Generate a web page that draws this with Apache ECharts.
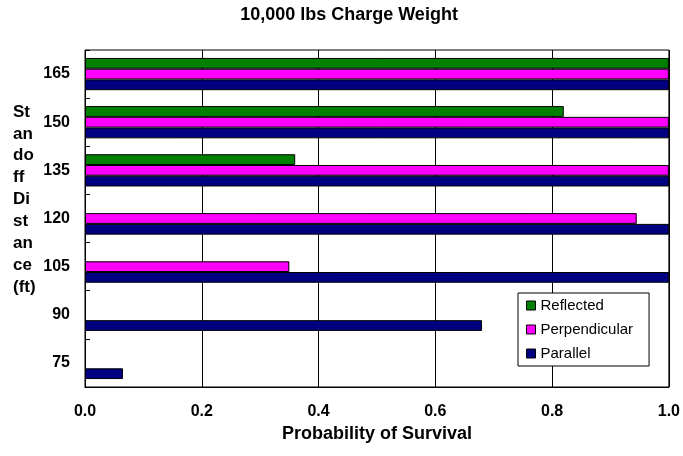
<!DOCTYPE html>
<html>
<head>
<meta charset="utf-8">
<script src="https://cdn.jsdelivr.net/npm/echarts@6/dist/echarts.min.js"></script>
<style>
  html, body { margin: 0; padding: 0; background: #fff; }
  #chart-container { width: 683px; height: 456px; }
</style>
</head>
<body>
<div id="chart-container"></div>
<script>
// standoff distances (ft), bottom to top
var distances = ['75', '90', '105', '120', '135', '150', '165'];
// probability of survival per orientation
var reflected = [null, null, null, null, 0.36, 0.82, 1.0];
var perpendicular = [null, null, 0.35, 0.945, 1.0, 1.0, 1.0];
var parallel = [0.065, 0.68, 1.0, 1.0, 1.0, 1.0, 1.0];

var font = 'Liberation Sans, Arial, sans-serif';

var dom = document.getElementById('chart-container');
var myChart = echarts.init(dom, null, { renderer: 'canvas' });

var option = {
  animation: false,
  backgroundColor: '#fff',
  grid: {
    left: 85, right: 13, top: 50, bottom: 69,
    show: true, borderColor: '#000', borderWidth: 1
  },
  legend: {
    orient: 'vertical',
    left: 518, top: 293,
    data: ['Reflected', 'Perpendicular', 'Parallel'],
    icon: 'rect',
    itemWidth: 9, itemHeight: 9, itemGap: 9,
    padding: [5, 16, 5, 8],
    backgroundColor: '#fff',
    borderColor: '#000', borderWidth: 1,
    textStyle: { fontFamily: font, fontSize: 15, lineHeight: 15, color: '#000' },
    itemStyle: { borderColor: '#000', borderWidth: 1 }
  },
  xAxis: {
    type: 'value',
    min: 0, max: 1, interval: 0.2,
    axisLine: { show: true, lineStyle: { color: '#000' } },
    axisTick: { show: false },
    splitLine: { show: true, lineStyle: { color: '#000', width: 1 } },
    axisLabel: {
      margin: 17,
      fontFamily: font, fontSize: 16, fontWeight: 'bold', color: '#000',
      formatter: function (v) { return v.toFixed(1); }
    }
  },
  yAxis: {
    type: 'category',
    data: distances,
    axisLine: { show: true, lineStyle: { color: '#000' } },
    axisTick: { show: true, inside: true, length: 5, lineStyle: { color: '#000' } },
    axisLabel: {
      margin: 15,
      fontFamily: font, fontSize: 16, fontWeight: 'bold', color: '#000'
    }
  },
  graphic: [
    {
      type: 'text', x: 349, y: 15,
      style: {
        text: '10,000 lbs Charge Weight', textAlign: 'center', textVerticalAlign: 'middle',
        font: 'bold 18px ' + font, fill: '#000'
      }
    },
    {
      type: 'text', x: 377, y: 434,
      style: {
        text: 'Probability of Survival', textAlign: 'center', textVerticalAlign: 'middle',
        font: 'bold 18px ' + font, fill: '#000'
      }
    },
    {
      type: 'text', x: 13, y: 101,
      style: {
        text: 'St\nan\ndo\nff\nDi\nst\nan\nce\n(ft)',
        font: 'bold 17px ' + font, lineHeight: 21.9, fill: '#000'
      }
    }
  ],
  series: [
    {
      name: 'Reflected', type: 'bar', data: reflected,
      barGap: '0%', barCategoryGap: '33%',
      itemStyle: { color: '#008000', borderColor: '#000', borderWidth: 1 }
    },
    {
      name: 'Perpendicular', type: 'bar', data: perpendicular,
      itemStyle: { color: '#ff00ff', borderColor: '#000', borderWidth: 1 }
    },
    {
      name: 'Parallel', type: 'bar', data: parallel,
      itemStyle: { color: '#000080', borderColor: '#000', borderWidth: 1 }
    }
  ]
};

myChart.setOption(option);
window.addEventListener('resize', myChart.resize);
</script>
</body>
</html>
